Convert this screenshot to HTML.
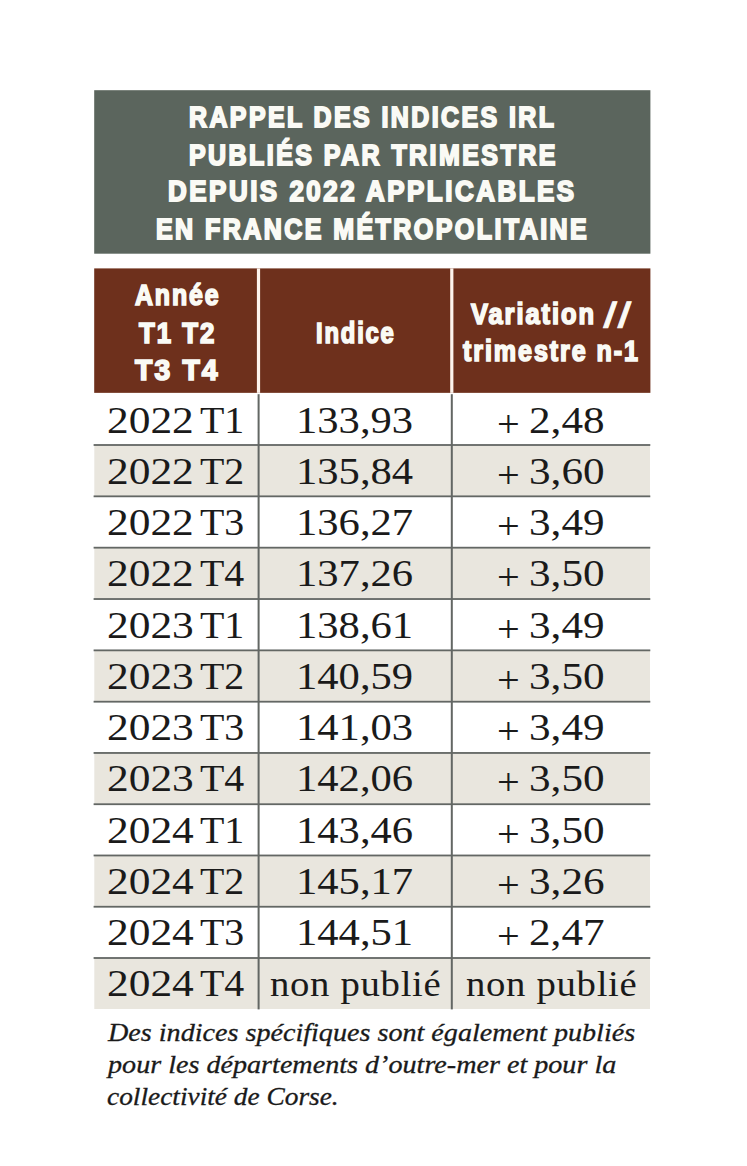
<!DOCTYPE html>
<html lang="fr">
<head>
<meta charset="utf-8">
<title>Rappel des indices IRL</title>
<style>
html,body{margin:0;padding:0;background:#ffffff;}
body{width:747px;height:1166px;position:relative;overflow:hidden;font-family:"Liberation Serif",serif;}
svg.bg{position:absolute;left:0;top:0;width:747px;height:1166px;display:block;}
.t{position:absolute;white-space:nowrap;transform-origin:0 0;line-height:1;display:block;}
.title .t,.thead .t{font-family:"Liberation Sans",sans-serif;font-weight:bold;color:#fafaf5;font-size:28.7px;-webkit-text-stroke:1.9px #fafaf5;}
.thead .t{font-size:29px;-webkit-text-stroke-width:1.7px;}
.tbody .t{font-family:"Liberation Serif",serif;color:#1a1a1a;font-size:38.5px;-webkit-text-stroke:0px #1a1a1a;}
.tbody .t.np{font-size:35.5px;}
.tbody .t.pl{font-size:38px;}
.cap .t{font-family:"Liberation Serif",serif;font-style:italic;color:#1a1a1a;font-size:25.5px;-webkit-text-stroke:0.3px #1a1a1a;}
</style>
</head>
<body>
<svg class="bg" width="747" height="1166" viewBox="0 0 747 1166">
<rect x="94.20" y="90.20" width="556.20" height="163.50" fill="#5b655d"/>
<rect x="94.20" y="268.40" width="556.20" height="124.45" fill="#6e301c"/>
<rect x="256.90" y="268.40" width="3.20" height="124.45" fill="#fdf3ec"/>
<rect x="450.20" y="268.40" width="3.20" height="124.45" fill="#fdf3ec"/>
<rect x="94.30" y="445.00" width="555.70" height="51.34" fill="#e9e6de"/>
<rect x="94.30" y="547.68" width="555.70" height="51.34" fill="#e9e6de"/>
<rect x="94.30" y="650.36" width="555.70" height="51.34" fill="#e9e6de"/>
<rect x="94.30" y="752.96" width="555.70" height="51.26" fill="#e9e6de"/>
<rect x="94.30" y="855.48" width="555.70" height="51.26" fill="#e9e6de"/>
<rect x="94.30" y="958.00" width="555.70" height="51.00" fill="#e9e6de"/>
<rect x="93.60" y="444.10" width="556.70" height="1.80" fill="#636764"/>
<rect x="93.60" y="495.44" width="556.70" height="1.80" fill="#636764"/>
<rect x="93.60" y="546.78" width="556.70" height="1.80" fill="#636764"/>
<rect x="93.60" y="598.12" width="556.70" height="1.80" fill="#636764"/>
<rect x="93.60" y="649.46" width="556.70" height="1.80" fill="#636764"/>
<rect x="93.60" y="700.80" width="556.70" height="1.80" fill="#636764"/>
<rect x="93.60" y="752.06" width="556.70" height="1.80" fill="#636764"/>
<rect x="93.60" y="803.32" width="556.70" height="1.80" fill="#636764"/>
<rect x="93.60" y="854.58" width="556.70" height="1.80" fill="#636764"/>
<rect x="93.60" y="905.84" width="556.70" height="1.80" fill="#636764"/>
<rect x="93.60" y="957.10" width="556.70" height="1.80" fill="#636764"/>
<rect x="257.60" y="394.20" width="2.00" height="615.20" fill="#636764"/>
<rect x="450.80" y="394.20" width="2.00" height="615.20" fill="#636764"/>
</svg>
<div class="title">
<span class="t" style="left:188.93px;top:102.71px;transform:scaleX(0.8687);letter-spacing:2.8px">RAPPEL DES INDICES IRL</span>
<span class="t" style="left:188.94px;top:140.71px;transform:scaleX(0.8713);letter-spacing:2.8px">PUBLIÉS PAR TRIMESTRE</span>
<span class="t" style="left:168.20px;top:176.71px;transform:scaleX(0.9035);letter-spacing:2.8px">DEPUIS 2022 APPLICABLES</span>
<span class="t" style="left:156.12px;top:214.71px;transform:scaleX(0.8717);letter-spacing:2.8px">EN FRANCE MÉTROPOLITAINE</span>
</div>
<div class="thead">
<span class="t" style="left:134.75px;top:281.45px;transform:scaleX(0.8587);letter-spacing:2.2px">Année</span>
<span class="t" style="left:138.52px;top:319.45px;transform:scaleX(0.8907);letter-spacing:2.2px">T1 T2</span>
<span class="t" style="left:135.24px;top:356.45px;transform:scaleX(0.9775);letter-spacing:2.2px">T3 T4</span>
<span class="t" style="left:316.24px;top:319.45px;transform:scaleX(0.8211);letter-spacing:2.2px">Indice</span>
<span class="t" style="left:471.26px;top:300.45px;transform:scaleX(0.8775);letter-spacing:2.2px">Variation</span>
<span class="t" style="left:608.17px;top:297.37px;transform:skewX(-9deg) scaleX(1.0326);font-size:35px;-webkit-text-stroke-width:1.0px;letter-spacing:4px">//</span>
<span class="t" style="left:462.71px;top:337.45px;transform:scaleX(0.8655);letter-spacing:2.2px">trimestre n-1</span>
</div>
<div class="tbody">
<div class="tr">
<span class="t" style="left:107.01px;top:400.76px;transform:scaleX(1.1276)">2022</span>
<span class="t" style="left:200.31px;top:400.76px;transform:scaleX(1.0353)">T1</span>
<span class="t" style="left:295.89px;top:400.76px;transform:scaleX(1.1062)">133,93</span>
<span class="t pl" style="left:497.10px;top:405.18px;transform:scaleX(1.0609)">+</span>
<span class="t" style="left:528.73px;top:400.76px;transform:scaleX(1.1214)">2,48</span>
</div>
<div class="tr">
<span class="t" style="left:107.01px;top:451.76px;transform:scaleX(1.1276)">2022</span>
<span class="t" style="left:199.63px;top:451.76px;transform:scaleX(1.0353)">T2</span>
<span class="t" style="left:295.89px;top:451.76px;transform:scaleX(1.1062)">135,84</span>
<span class="t pl" style="left:497.10px;top:456.18px;transform:scaleX(1.0609)">+</span>
<span class="t" style="left:528.73px;top:451.76px;transform:scaleX(1.1214)">3,60</span>
</div>
<div class="tr">
<span class="t" style="left:107.01px;top:502.76px;transform:scaleX(1.1276)">2022</span>
<span class="t" style="left:200.31px;top:502.76px;transform:scaleX(1.0353)">T3</span>
<span class="t" style="left:295.89px;top:502.76px;transform:scaleX(1.1062)">136,27</span>
<span class="t pl" style="left:497.10px;top:507.18px;transform:scaleX(1.0609)">+</span>
<span class="t" style="left:528.73px;top:502.76px;transform:scaleX(1.1214)">3,49</span>
</div>
<div class="tr">
<span class="t" style="left:107.01px;top:553.76px;transform:scaleX(1.1276)">2022</span>
<span class="t" style="left:199.63px;top:553.76px;transform:scaleX(1.0353)">T4</span>
<span class="t" style="left:295.89px;top:553.76px;transform:scaleX(1.1062)">137,26</span>
<span class="t pl" style="left:497.10px;top:558.17px;transform:scaleX(1.0609)">+</span>
<span class="t" style="left:528.73px;top:553.76px;transform:scaleX(1.1214)">3,50</span>
</div>
<div class="tr">
<span class="t" style="left:107.01px;top:605.76px;transform:scaleX(1.1276)">2023</span>
<span class="t" style="left:200.31px;top:605.76px;transform:scaleX(1.0353)">T1</span>
<span class="t" style="left:295.89px;top:605.76px;transform:scaleX(1.1062)">138,61</span>
<span class="t pl" style="left:497.10px;top:610.17px;transform:scaleX(1.0609)">+</span>
<span class="t" style="left:528.73px;top:605.76px;transform:scaleX(1.1214)">3,49</span>
</div>
<div class="tr">
<span class="t" style="left:107.01px;top:656.76px;transform:scaleX(1.1276)">2023</span>
<span class="t" style="left:199.63px;top:656.76px;transform:scaleX(1.0353)">T2</span>
<span class="t" style="left:295.89px;top:656.76px;transform:scaleX(1.1062)">140,59</span>
<span class="t pl" style="left:497.10px;top:661.17px;transform:scaleX(1.0609)">+</span>
<span class="t" style="left:528.73px;top:656.76px;transform:scaleX(1.1214)">3,50</span>
</div>
<div class="tr">
<span class="t" style="left:107.01px;top:707.76px;transform:scaleX(1.1276)">2023</span>
<span class="t" style="left:200.31px;top:707.76px;transform:scaleX(1.0353)">T3</span>
<span class="t" style="left:295.89px;top:707.76px;transform:scaleX(1.1062)">141,03</span>
<span class="t pl" style="left:497.10px;top:712.17px;transform:scaleX(1.0609)">+</span>
<span class="t" style="left:528.73px;top:707.76px;transform:scaleX(1.1214)">3,49</span>
</div>
<div class="tr">
<span class="t" style="left:107.01px;top:758.76px;transform:scaleX(1.1276)">2023</span>
<span class="t" style="left:199.63px;top:758.76px;transform:scaleX(1.0353)">T4</span>
<span class="t" style="left:295.89px;top:758.76px;transform:scaleX(1.1062)">142,06</span>
<span class="t pl" style="left:497.10px;top:763.17px;transform:scaleX(1.0609)">+</span>
<span class="t" style="left:528.73px;top:758.76px;transform:scaleX(1.1214)">3,50</span>
</div>
<div class="tr">
<span class="t" style="left:107.01px;top:810.76px;transform:scaleX(1.1276)">2024</span>
<span class="t" style="left:200.31px;top:810.76px;transform:scaleX(1.0353)">T1</span>
<span class="t" style="left:295.89px;top:810.76px;transform:scaleX(1.1062)">143,46</span>
<span class="t pl" style="left:497.10px;top:815.17px;transform:scaleX(1.0609)">+</span>
<span class="t" style="left:528.73px;top:810.76px;transform:scaleX(1.1214)">3,50</span>
</div>
<div class="tr">
<span class="t" style="left:107.01px;top:861.76px;transform:scaleX(1.1276)">2024</span>
<span class="t" style="left:199.63px;top:861.76px;transform:scaleX(1.0353)">T2</span>
<span class="t" style="left:295.89px;top:861.76px;transform:scaleX(1.1062)">145,17</span>
<span class="t pl" style="left:497.10px;top:866.17px;transform:scaleX(1.0609)">+</span>
<span class="t" style="left:528.73px;top:861.76px;transform:scaleX(1.1214)">3,26</span>
</div>
<div class="tr">
<span class="t" style="left:107.01px;top:912.76px;transform:scaleX(1.1276)">2024</span>
<span class="t" style="left:200.31px;top:912.76px;transform:scaleX(1.0353)">T3</span>
<span class="t" style="left:295.89px;top:912.76px;transform:scaleX(1.1062)">144,51</span>
<span class="t pl" style="left:497.10px;top:917.17px;transform:scaleX(1.0609)">+</span>
<span class="t" style="left:528.73px;top:912.76px;transform:scaleX(1.1214)">2,47</span>
</div>
<div class="tr">
<span class="t" style="left:107.01px;top:963.76px;transform:scaleX(1.1276)">2024</span>
<span class="t" style="left:199.63px;top:963.76px;transform:scaleX(1.0353)">T4</span>
<span class="t np" style="left:270.44px;top:967.27px;transform:scaleX(1.0927);letter-spacing:0.6px">non publié</span>
<span class="t np" style="left:465.87px;top:967.27px;transform:scaleX(1.0927);letter-spacing:0.6px">non publié</span>
</div>
</div>
<div class="cap">
<span class="t" style="left:108.32px;top:1019.64px;transform:scaleX(1.1028)">Des indices spécifiques sont également publiés</span>
<span class="t" style="left:108.12px;top:1051.64px;transform:scaleX(1.1030)">pour les départements d’outre-mer et pour la</span>
<span class="t" style="left:106.87px;top:1083.64px;transform:scaleX(1.0728)">collectivité de Corse.</span>
</div>
</body>
</html>
